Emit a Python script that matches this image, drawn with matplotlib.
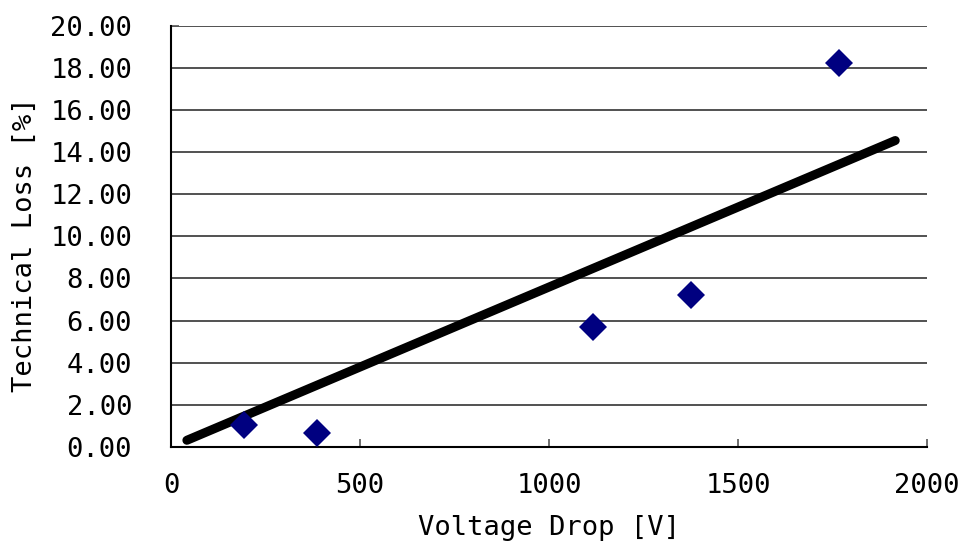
import numpy as np
import matplotlib
matplotlib.use("Agg")
import matplotlib.pyplot as plt

# Measured feeder data
voltage_drop = [194, 386, 1116, 1375, 1768]          # [V]
technical_loss = [1.04, 0.65, 5.71, 7.22, 18.22]      # [%]

# Range covered by the trend line
trend_x = [42, 1916]

x_ticks = [0, 500, 1000, 1500, 2000]
y_ticks = [0, 2, 4, 6, 8, 10, 12, 14, 16, 18, 20]

# Least-squares line through the origin
xv = np.asarray(voltage_drop, dtype=float)
yv = np.asarray(technical_loss, dtype=float)
slope = np.sum(xv * yv) / np.sum(xv * xv)
trend_y = [slope * v for v in trend_x]

plt.rcParams["font.family"] = ["DejaVu Sans Mono"]

fig = plt.figure(figsize=(9.6, 5.47), dpi=100)
ax = fig.add_axes([171 / 960, 1 - 447 / 547, (927 - 171) / 960, (447 - 25.7) / 547])

ax.set_xlim(0, 2000)
ax.set_ylim(0, 20)

for t in y_ticks[1:]:
    ax.axhline(t, color="#333333", lw=1.2, zorder=1)

ax.plot(trend_x, trend_y, color="black", lw=6.5, solid_capstyle="round", zorder=2)
ax.plot(voltage_drop, technical_loss, linestyle="none", marker="D", ms=14,
        color="#000080", markeredgewidth=0, zorder=3)

ax.set_xticks(x_ticks)
ax.set_yticks(y_ticks)
ax.set_xticklabels([str(t) for t in x_ticks])
ax.set_yticklabels(["%.2f" % t for t in y_ticks])

ax.tick_params(axis="both", direction="in", length=6, width=1.2, color="#555555",
               labelsize=19.5, labelcolor="black")
ax.tick_params(axis="x", pad=19)
ax.tick_params(axis="y", pad=28)

for side in ("top", "right"):
    ax.spines[side].set_visible(False)
ax.spines["left"].set_color("black")
ax.spines["left"].set_linewidth(1.5)
ax.spines["bottom"].set_color("black")
ax.spines["bottom"].set_linewidth(1.5)

ax.set_xlabel("Voltage Drop [V]", fontsize=19.5)
ax.set_ylabel("Technical Loss [%]", fontsize=19.5)
ax.xaxis.set_label_coords(0.5, -0.192)
ax.yaxis.set_label_coords(-0.193, 0.48)
ax.xaxis.label.set_va("center")
ax.yaxis.label.set_va("center")

fig.savefig("out.png", dpi=100)
